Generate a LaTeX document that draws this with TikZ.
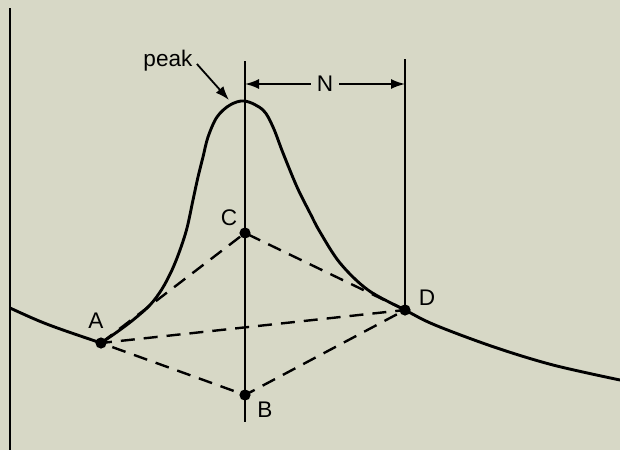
\documentclass[tikz,border=0pt]{standalone}
\usepackage{fontspec}
\setmainfont{Liberation Sans}
\usetikzlibrary{arrows.meta}
\definecolor{fons}{RGB}{215,216,198}
\tikzset{
	eix/.style={line width=1.15pt},
	corba/.style={line width=1.45pt},
	trenc/.style={line width=1.2pt,dash pattern=on 7pt off 4.5pt},
	etiq/.style={font=\fontsize{11.3}{13}\selectfont,inner sep=1pt}
}
\begin{document}
\begin{tikzpicture}[x=0.5pt,y=-0.5pt]
		% Fons
		\fill[fons] (0,0) rectangle (620,450);
		\useasboundingbox (0,0) rectangle (620,450);

		% Punts
		\coordinate (A) at (101,343);
		\coordinate (B) at (245,395);
		\coordinate (C) at (245,233);
		\coordinate (D) at (405,310);
		\coordinate (P) at (245,101);

		% Eixos verticals
		\draw[eix] (10,8) -- (10,450);
		\draw[eix] (245,61) -- (245,422);
		\draw[eix] (405,59) -- (D);

		% Corba
		\draw[corba] (10,308) .. controls (45,324) .. (A);
		\draw[corba] plot[smooth,tension=0.55] coordinates {
			(101,343) (117,332) (133,320) (150,305) (162,289) (172,270)
			(180,250) (187,228) (193,200)
			(198,177) (203,157) (208,137) (217,117) (230,105) (245,101)
			(263,110) (273,127) (283,153) (297,187) (310,213) (320,232)
			(340,263) (368,290) (405,310)
			(435,325) (494,347) (553,365) (620,380)};

		% Linies discontinues
		\draw[trenc] (A) -- (C) -- (D) -- (B) -- (A) -- (D);

		\foreach \Q in {A,B,C,D} {
			\fill[black] (\Q) circle (2.8pt);
		}
		\node[etiq] (lA) at (96,321) {A};
		\node[etiq] (lB) at (265,410) {B};
		\node[etiq] (lC) at (229,218) {C};
		\node[etiq] (lD) at (427,298) {D};

		% Distancia N
		\coordinate (N1) at (245,84);
		\coordinate (N2) at (405,84);
		\draw[line width=0.9pt,{Latex[length=7pt,width=5pt]}-{Latex[length=7pt,width=5pt]}] (N1) -- (N2);
		\node[etiq,fill=fons,inner xsep=3pt] (lN) at (325,84) {N};

		% Pic
		\coordinate (Pt) at (229,100);
		\node[etiq] (lP) at (168,61) {peak};
		\draw[line width=0.9pt,-{Latex[length=7pt,width=5pt]}] (lP.east) ++(2,3) -- (Pt);
	\end{tikzpicture}
\end{document}
